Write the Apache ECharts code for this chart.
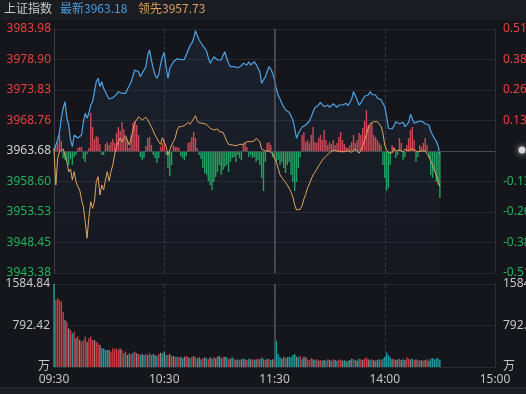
<!DOCTYPE html>
<html><head><meta charset="utf-8">
<script src="https://cdn.jsdelivr.net/npm/echarts@6/dist/echarts.min.js"></script>
<style>html,body{margin:0;padding:0;background:#15161b;}#c{width:526px;height:394px;}</style>
</head><body><div id="c"></div>
<script>
const prevClose = 3963.68;
const priceTicks = ['3943.38','3948.45','3953.53','3958.60','3963.68','3968.76','3973.83','3978.90','3983.98'];
const pctTicks = ['-0.51','-0.38','-0.26','-0.13','','0.13','0.26','0.38','0.51'];
const volTicks = ['万','792.42','1584.84'];
const timeTicks = ['09:30','10:30','11:30','14:00','15:00'];
const headerName = '上证指数';
const latestText = '最新3963.18';
const leadText = '领先3957.73';

const indexPrice = [
3963.85,3964.68,3965.51,3966.89,3969.17,3970.83,3971.88,3969.17,3968.01,3965.51,
3964.40,3966.34,3966.34,3965.84,3966.06,3966.34,3968.56,3969.95,3969.12,3969.95,
3971.33,3971.88,3973.55,3975.21,3975.78,3974.38,3975.21,3974.11,3973.55,3972.88,
3972.33,3972.17,3972.55,3972.88,3973.11,3973.55,3973.83,3973.28,3973.55,3973.28,
3974.00,3974.55,3975.21,3976.21,3977.16,3977.44,3976.87,3976.04,3976.61,3977.16,
3977.71,3979.65,3980.49,3978.82,3977.44,3976.33,3975.78,3976.44,3978.11,3979.37,
3980.10,3977.71,3975.78,3977.44,3977.99,3978.54,3978.82,3979.04,3979.10,3978.87,
3978.99,3978.94,3979.20,3980.49,3981.20,3981.60,3982.43,3983.70,3982.86,3982.15,
3981.87,3981.20,3980.87,3980.32,3979.20,3978.27,3978.82,3979.37,3979.65,3978.82,
3979.10,3978.82,3979.65,3980.20,3979.10,3978.27,3977.71,3977.99,3977.71,3977.44,
3977.54,3977.27,3977.87,3978.27,3978.54,3977.99,3978.54,3977.99,3978.27,3978.54,
3978.11,3978.44,3976.87,3974.94,3975.21,3976.04,3976.87,3977.71,3977.32,3976.61,
3975.49,3974.11,3973.00,3972.33,3971.62,3971.05,3970.50,3970.78,3970.12,3969.79,
3968.84,3967.46,3965.79,3966.63,3966.89,3967.67,3967.59,3968.01,3967.84,3968.67,
3969.39,3970.22,3970.88,3970.78,3971.33,3971.78,3972.00,3971.05,3970.88,3971.33,
3970.95,3971.05,3971.55,3971.45,3970.95,3971.33,3971.05,3971.33,3971.22,3971.62,
3971.22,3971.33,3972.33,3973.55,3972.88,3972.17,3971.33,3971.67,3972.00,3972.78,
3972.88,3973.00,3973.55,3973.11,3972.78,3973.00,3972.45,3972.71,3972.22,3972.33,
3971.05,3969.39,3967.46,3967.17,3967.34,3967.89,3968.56,3968.79,3968.22,3967.89,
3968.46,3967.72,3967.89,3968.46,3969.79,3969.67,3968.29,3968.12,3968.56,3968.34,
3968.67,3968.84,3968.22,3968.46,3968.01,3967.01,3966.34,3965.79,3965.34,3964.56,
3963.18];

const leadPrice = [
3963.85,3958.02,3962.52,3963.56,3963.85,3964.01,3963.68,3961.90,3960.24,3960.68,
3958.85,3960.24,3958.57,3957.74,3957.19,3955.53,3954.41,3951.92,3949.15,3952.75,
3955.24,3954.15,3955.24,3958.57,3959.40,3956.36,3958.02,3957.19,3958.85,3960.24,
3958.69,3960.24,3961.35,3963.13,3964.40,3965.23,3965.79,3965.23,3965.79,3966.23,
3965.34,3964.68,3965.79,3967.17,3968.46,3968.84,3969.39,3969.67,3968.84,3968.56,
3969.29,3968.84,3969.00,3967.72,3967.01,3966.34,3965.79,3965.23,3964.79,3965.89,
3966.06,3964.40,3963.01,3963.85,3964.68,3965.23,3965.89,3967.17,3967.72,3968.01,
3967.79,3968.12,3968.12,3968.46,3968.12,3968.56,3968.84,3969.55,3968.72,3968.34,
3968.56,3968.29,3968.46,3968.12,3967.79,3967.46,3967.72,3967.17,3967.01,3967.34,
3966.89,3966.72,3966.79,3966.06,3965.34,3964.79,3964.56,3964.68,3964.40,3964.56,
3964.46,3964.79,3964.51,3964.79,3964.96,3965.23,3965.13,3965.23,3965.51,3965.34,
3965.79,3965.89,3965.23,3964.01,3963.73,3963.68,3963.56,3963.68,3963.56,3963.23,
3962.90,3961.80,3960.80,3959.69,3959.24,3958.85,3958.57,3958.02,3957.47,3956.81,
3956.08,3954.69,3953.86,3954.15,3953.98,3954.58,3955.69,3956.48,3957.57,3958.19,
3959.02,3959.69,3960.14,3960.64,3961.23,3961.63,3962.18,3962.47,3962.80,3963.13,
3963.40,3963.68,3963.80,3963.80,3963.68,3963.85,3963.56,3963.85,3963.56,3963.85,
3963.73,3963.90,3963.46,3963.40,3964.01,3963.85,3963.30,3963.73,3964.56,3965.46,
3966.34,3967.46,3968.22,3968.39,3968.56,3968.67,3968.56,3968.39,3967.79,3966.63,
3964.68,3963.80,3963.40,3963.56,3963.35,3964.13,3963.68,3964.01,3963.85,3964.01,
3963.56,3964.01,3963.68,3963.68,3964.06,3963.96,3963.85,3964.13,3963.56,3963.85,
3963.68,3963.96,3963.68,3963.68,3962.80,3962.02,3961.35,3960.52,3959.69,3958.85,
3957.73];

const strength = [
3,5,8,16,10,-7,-9,-11,-14,-8,-14,-6,-4,3,4,4,-8,-11,-3,3,
38,24,12,15,14,7,-4,-4,7,9,6,9,12,8,18,24,20,29,22,13,
11,3,16,28,30,26,16,-6,-9,-7,5,13,14,6,-4,-7,-12,-7,4,8,
11,-4,-17,-25,-14,6,4,4,3,-5,-7,-9,-5,8,9,14,19,13,3,-4,
-8,-17,-22,-24,-30,-34,-39,-31,-26,-21,-14,-24,-19,-16,-14,-21,-11,-7,-6,-11,
-4,-7,-9,6,9,4,-6,-4,-7,-6,-11,-9,-14,-27,-40,-11,8,9,6,-6,
-7,-11,-9,-14,-11,-17,-22,-14,-11,-24,-31,-40,-31,-17,-6,16,19,9,11,8,
16,24,9,8,13,16,11,21,11,6,9,7,11,6,8,14,19,11,7,4,
3,6,9,16,8,11,18,16,23,30,41,26,26,28,16,14,11,8,6,-14,
-27,-40,-37,-14,6,4,-7,-4,13,8,-9,-6,6,13,21,24,11,-11,-6,6,
4,8,13,6,-7,-24,-27,-21,-31,-34,-47];

const volume = [
1584.84,1280,1312,1280,1248,1057,898,866,739,707,643,675,548,580,516,484,516,580,484,548,
580,516,516,484,452,420,357,357,325,325,325,293,357,338,357,325,357,325,261,293,
229,261,248,274,293,261,248,229,248,229,248,229,261,229,248,229,210,248,274,261,
293,229,229,248,210,210,197,197,185,197,166,197,210,185,166,197,210,185,166,185,
147,166,185,166,147,185,159,185,166,197,210,166,185,197,185,147,166,185,159,134,
147,134,147,159,147,134,159,147,147,134,147,159,147,185,159,134,159,147,134,147,
134,500,248,185,159,197,172,185,197,185,229,248,197,185,210,147,197,185,147,134,
166,147,134,147,121,134,121,134,121,147,134,121,147,134,121,134,147,121,134,108,
121,134,159,147,134,121,159,147,134,159,185,147,134,147,134,121,134,147,134,159,
197,274,229,185,147,159,134,147,159,134,147,134,185,159,147,159,134,147,134,121,
134,121,134,147,121,159,172,147,159,172,134];

const volDir = [
'g','r','r','r','r','r','n','r','n','r','g','r','n','r','n','r','r','r','n','r',
'r','r','n','r','r','n','g','g','g','g','n','r','r','r','r','r','n','r','g','r',
'n','g','r','g','r','n','r','g','n','g','r','g','r','g','g','n','g','r','n','g',
'n','g','r','n','r','n','r','g','r','n','g','n','r','n','g','r','n','r','g','n',
'g','r','n','g','r','n','g','r','n','g','n','g','r','n','g','r','n','g','r','n',
'g','r','n','g','n','r','g','n','r','g','n','r','g','g','g','r','n','r','g','n',
'r','g','g','g','n','g','r','n','g','g','g','g','n','g','r','g','n','n','r','r',
'r','n','g','r','n','r','g','n','g','r','n','g','r','n','g','r','r','n','g','n',
'g','n','g','r','g','n','g','r','n','r','r','n','g','r','n','g','n','g','r','g',
'g','g','g','g','n','r','n','g','r','n','g','n','r','r','n','g','r','n','r','g',
'n','r','n','r','n','g','g','g','g','g','g'];

const axisHalf = +(parseFloat(priceTicks[8]) - prevClose).toFixed(2);
const step = axisHalf / 4;
const volMax = parseFloat(volTicks[2]);
const tickIdx = v => Math.round(v / step) + 4;
const sideColor = v => { const k = tickIdx(v); return k > 4 ? '#e8413f' : (k < 4 ? '#21b35c' : '#cfcfcf'); };
const numFont = "'Noto Sans', 'Noto Sans CJK SC', sans-serif";
const volColors = { r: '#cf3942', g: '#1c9c9f', n: '#858585' };

const chart = echarts.init(document.getElementById('c'), null, { renderer: 'canvas' });
const vLine = { type: 'dashed', color: '#34363e', width: 1 };

chart.setOption({
  backgroundColor: '#15161b',
  animation: false,
  textStyle: { fontFamily: numFont },
  graphic: [
    { type: 'rect', shape: { x: 0, y: 0, width: 526, height: 20 }, style: { fill: '#1b1c21' }, z: -10 },
    { type: 'rect', shape: { x: 0, y: 388, width: 526, height: 6 }, style: { fill: '#1b1d23' }, z: -10 },
    { type: 'rect', shape: { x: 0, y: 387.5, width: 526, height: 1 }, style: { fill: '#2e323b' }, z: -9 },
    { type: 'text', left: 4, top: 2, style: { text: headerName, fill: '#c9c9c9', font: "12px 'Noto Sans CJK SC', sans-serif" } },
    { type: 'text', left: 60, top: 2, style: { text: latestText, fill: '#4a9fe3', font: "12px 'Noto Sans CJK SC', sans-serif" } },
    { type: 'text', left: 138, top: 2, style: { text: leadText, fill: '#d9a25f', font: "12px 'Noto Sans CJK SC', sans-serif" } },
    { type: 'circle', shape: { cx: 522, cy: 150, r: 3.5 }, style: { fill: 'rgba(235,235,235,0.85)', shadowBlur: 6, shadowColor: 'rgba(255,255,255,0.9)' }, z: 10 }
  ],
  grid: [
    { left: 54, right: 31, top: 29, height: 244, show: false, containLabel: false, outerBoundsMode: 'none' },
    { left: 54, right: 31, top: 284, height: 83, show: false, containLabel: false, outerBoundsMode: 'none' }
  ],
  xAxis: [
    { gridIndex: 0, type: 'value', min: 0, max: 240, interval: 60,
      axisLine: { show: false }, axisTick: { show: false }, axisLabel: { show: false },
      splitLine: { show: true, lineStyle: vLine } },
    { gridIndex: 1, type: 'value', min: 0, max: 240, interval: 60,
      axisLine: { show: true, lineStyle: { color: '#2a2c34' } }, axisTick: { show: false },
      axisLabel: { show: true, margin: 7, color: '#c6c6c6', fontSize: 12, fontFamily: numFont,
        alignMinLabel: 'center', alignMaxLabel: 'center', hideOverlap: false,
        formatter: v => timeTicks[Math.round(v / 60)] },
      splitLine: { show: true, lineStyle: vLine } }
  ],
  yAxis: [
    { gridIndex: 0, type: 'value', min: -axisHalf, max: axisHalf, interval: step, position: 'left',
      axisLine: { show: true, lineStyle: { color: '#3c3e46' } }, axisTick: { show: false },
      axisLabel: { margin: 3, fontSize: 12, fontFamily: numFont, color: sideColor, formatter: v => priceTicks[tickIdx(v)] },
      splitLine: { show: true, lineStyle: { color: '#25272e', width: 1 } } },
    { gridIndex: 0, type: 'value', min: -axisHalf, max: axisHalf, interval: step, position: 'right',
      axisLine: { show: true, lineStyle: { color: '#2c2e35' } }, axisTick: { show: false },
      axisLabel: { margin: 8, fontSize: 12, fontFamily: numFont, color: sideColor, formatter: v => pctTicks[tickIdx(v)] },
      splitLine: { show: false } },
    { gridIndex: 0, type: 'value', min: -122, max: 122, show: false, splitLine: { show: false } },
    { gridIndex: 1, type: 'value', min: 0, max: volMax, interval: volMax / 2, position: 'left',
      axisLine: { show: true, lineStyle: { color: '#3c3e46' } }, axisTick: { show: false },
      axisLabel: { margin: 4, fontSize: 12, fontFamily: numFont, color: '#c6c6c6',
        formatter: v => volTicks[Math.round(v / (volMax / 2))] },
      splitLine: { show: true, lineStyle: { color: '#25272e' } } },
    { gridIndex: 1, type: 'value', min: 0, max: volMax, interval: volMax / 2, position: 'right',
      axisLine: { show: true, lineStyle: { color: '#2c2e35' } }, axisTick: { show: false },
      axisLabel: { margin: 8, fontSize: 12, fontFamily: numFont, color: '#c6c6c6',
        formatter: v => volTicks[Math.round(v / (volMax / 2))] },
      splitLine: { show: false } }
  ],
  series: [
    { type: 'bar', xAxisIndex: 0, yAxisIndex: 2, barWidth: 1.4,
      data: strength.map((s, i) => ({ value: [i, s], itemStyle: { color: s >= 0 ? '#d8434e' : '#1fa35c' } })),
      z: 2 },
    { type: 'line', xAxisIndex: 0, yAxisIndex: 0, symbol: 'none', smooth: false,
      data: indexPrice.map((p, i) => [i, +(p - prevClose).toFixed(2)]),
      lineStyle: { color: '#4ea3e6', width: 1.2 },
      areaStyle: { origin: 'start', color: new echarts.graphic.LinearGradient(0, 0, 0, 1, [
        { offset: 0, color: 'rgba(70,130,200,0.16)' }, { offset: 1, color: 'rgba(70,130,200,0.02)' }]) },
      markLine: { silent: true, symbol: 'none', label: { show: false },
        data: [ { yAxis: 0, lineStyle: { color: '#4a4c55', type: 'solid', width: 1.2 } },
                { xAxis: 120, lineStyle: { color: '#53555e', type: 'solid', width: 1.5 } } ] },
      z: 4 },
    { type: 'line', xAxisIndex: 0, yAxisIndex: 0, symbol: 'none',
      data: leadPrice.map((p, i) => [i, +(p - prevClose).toFixed(2)]),
      lineStyle: { color: '#dfa45e', width: 1 }, z: 5 },
    { type: 'bar', xAxisIndex: 1, yAxisIndex: 3, barWidth: 1.4,
      data: volume.map((v, i) => ({ value: [i, v], itemStyle: { color: volColors[volDir[i]] } })),
      markLine: { silent: true, symbol: 'none', label: { show: false },
        data: [ { xAxis: 120, lineStyle: { color: '#53555e', type: 'solid', width: 1.5 } } ] },
      z: 3 }
  ]
});
</script></body></html>
